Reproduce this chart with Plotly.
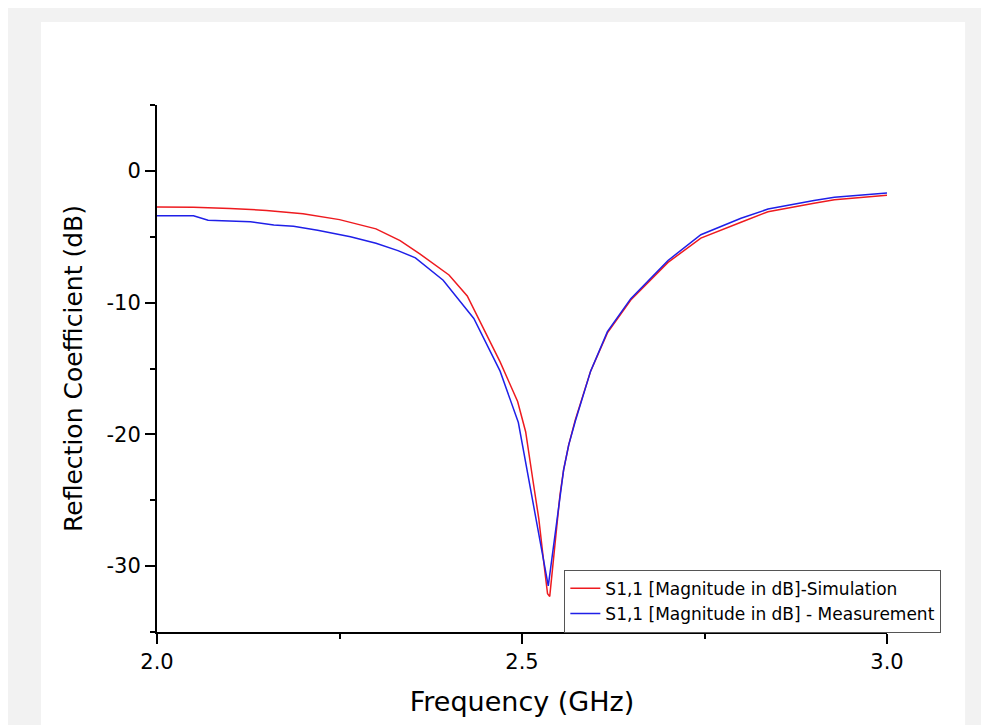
import plotly.graph_objects as go

# simulated S11 (red)
sim_freq = [2.0, 2.05, 2.1, 2.15, 2.2, 2.25, 2.3, 2.333, 2.36, 2.4, 2.425, 2.447,
            2.47, 2.494, 2.505, 2.515, 2.523, 2.53, 2.535, 2.538, 2.542, 2.546,
            2.552, 2.557, 2.564, 2.573, 2.594, 2.617, 2.649, 2.7, 2.745, 2.8,
            2.837, 2.9, 2.928, 3.0]
sim_db = [-2.75, -2.77, -2.85, -3.0, -3.25, -3.7, -4.4, -5.3, -6.3, -7.9, -9.5, -11.9,
          -14.5, -17.5, -19.8, -23.5, -26.4, -29.8, -32.1, -32.3, -30.0, -27.6,
          -24.6, -22.7, -20.8, -18.9, -15.2, -12.3, -9.8, -6.95, -5.1, -3.9,
          -3.1, -2.45, -2.2, -1.85]

# measured S11 (blue)
meas_freq = [2.0, 2.05, 2.07, 2.09, 2.128, 2.16, 2.187, 2.22, 2.265, 2.3, 2.33,
             2.354, 2.392, 2.434, 2.47, 2.495, 2.536, 2.557, 2.564, 2.573, 2.594,
             2.617, 2.649, 2.7, 2.745, 2.8, 2.837, 2.9, 2.928, 3.0]
meas_db = [-3.4, -3.4, -3.75, -3.8, -3.87, -4.1, -4.2, -4.5, -5.0, -5.5, -6.05,
           -6.6, -8.3, -11.2, -15.2, -19.1, -31.5, -22.7, -20.8, -19.0, -15.2,
           -12.2, -9.7, -6.8, -4.85, -3.6, -2.9, -2.25, -2.0, -1.67]

x_major = [2.0, 2.5, 3.0]
x_major_text = ["2.0", "2.5", "3.0"]
x_minor = [2.25, 2.75]
y_major = [0, -10, -20, -30]
y_major_text = ["0", "-10", "-20", "-30"]
y_minor = [5, -5, -15, -25, -35]

font_family = "DejaVu Sans, Arial, sans-serif"

fig = go.Figure()
fig.add_trace(go.Scatter(
    x=sim_freq, y=sim_db, mode="lines",
    line=dict(color="#ee1a1f", width=1.5),
    name="S1,1 [Magnitude in dB]-Simulation",
))
fig.add_trace(go.Scatter(
    x=meas_freq, y=meas_db, mode="lines",
    line=dict(color="#1f1fe8", width=1.5),
    name="S1,1 [Magnitude in dB] - Measurement",
))

axis_common = dict(
    showline=True, linecolor="black", linewidth=2,
    showgrid=False, zeroline=False,
    ticks="outside", ticklen=10, tickwidth=2, tickcolor="black",
    tickfont=dict(size=21, color="black", family=font_family),
)

fig.update_xaxes(
    range=[2.0, 3.0],
    tickmode="array", tickvals=x_major, ticktext=x_major_text,
    minor=dict(tickvals=x_minor, ticks="outside", ticklen=5, tickwidth=2, tickcolor="black"),
    title=dict(text="Frequency (GHz)", font=dict(size=27, color="black", family=font_family), standoff=19),
    **axis_common,
)
fig.update_yaxes(
    range=[-35, 5],
    tickmode="array", tickvals=y_major, ticktext=y_major_text,
    minor=dict(tickvals=y_minor, ticks="outside", ticklen=5, tickwidth=2, tickcolor="black"),
    title=dict(text="Reflection Coefficient (dB)", font=dict(size=25, color="black", family=font_family), standoff=17),
    **axis_common,
)

# white panel over the grey page
fig.add_shape(type="rect", xref="paper", yref="paper",
              x0=-0.159, x1=1.107, y0=-0.3, y1=1.1575,
              fillcolor="white", line=dict(width=0), layer="below")

# page body has an 8px margin, so the figure is 8px smaller and margins shifted
fig.update_layout(
    width=981, height=717,
    margin=dict(l=149, r=102, t=97, b=93),
    paper_bgcolor="#f2f2f2",
    plot_bgcolor="white",
    font=dict(family=font_family, color="black"),
    legend=dict(
        x=0.558, y=0.118, xanchor="left", yanchor="top",
        bgcolor="white", bordercolor="#555555", borderwidth=1,
        font=dict(size=17, color="black", family=font_family),
        tracegroupgap=0,
    ),
)

fig.write_html("out.html")
